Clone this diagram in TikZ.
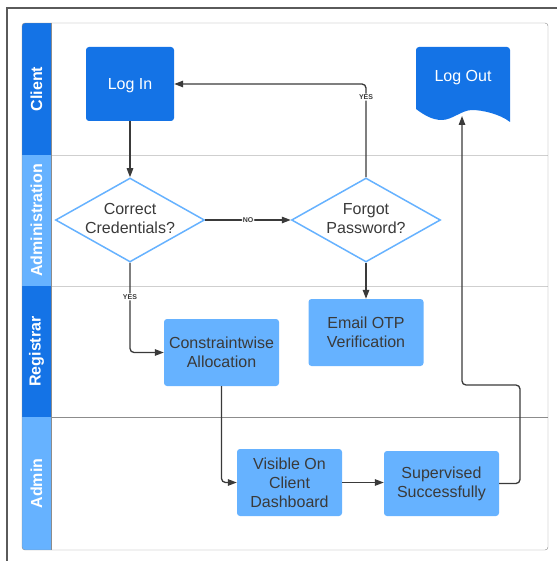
\documentclass[tikz,border=0pt]{standalone}
\usepackage{fontspec}
\setmainfont{Liberation Sans}
\usepackage{tikz}
\usetikzlibrary{arrows.meta,shapes.geometric}
\definecolor{deepblue}{HTML}{1473E6}
\definecolor{skyblue}{HTML}{66B2FF}
\definecolor{inkgray}{HTML}{3A3A3A}
\definecolor{framegray}{HTML}{5A5A5A}
\definecolor{midgray}{HTML}{8C8C8C}
\definecolor{rulegray}{HTML}{CFCFCF}
% two-line text that does not widen a diamond
\newcommand{\dtext}[1]{\makebox[0pt]{\begin{tabular}{@{}c@{}}#1\end{tabular}}}

\begin{document}
\begin{tikzpicture}[x=1pt, y=-1pt, every node/.style={font=\fontsize{16}{19}\selectfont},
  procbox/.style={rectangle, rounded corners=3pt, inner sep=2pt, align=center, minimum height=67pt},
  darkbox/.style={procbox, fill=deepblue, text=white},
  lightbox/.style={procbox, fill=skyblue, text=inkgray},
  decision/.style={diamond, draw=skyblue, line width=1.5pt, fill=white, minimum width=149pt, minimum height=84pt, inner sep=0pt, text=inkgray},
  flow/.style={draw=inkgray, line width=1.3pt, rounded corners=4pt, -{Triangle[length=9pt,width=6.5pt]}},
  tag/.style={font=\fontsize{7}{8}\selectfont\bfseries, text=inkgray, fill=white, inner sep=1pt},
  lanelab/.style={font=\fontsize{16}{19}\selectfont\bfseries, text=white, rotate=90}]
\useasboundingbox (0,0) rectangle (557,561);
\draw[framegray, line width=1.2pt] (7,561) -- (7,8) -- (557,8);

% swimlanes
\begin{scope}
\clip[rounded corners=3pt] (22,23) rectangle (548,550);
\foreach \ya/\yb/\lab/\col in {23/155/Client/deepblue, 155/286/Administration/skyblue,
  286/417/Registrar/deepblue, 417/550/Admin/skyblue}{
  \fill[\col] (22,\ya) rectangle (51,\yb);
  \node[lanelab] (lane-\lab) at (36.5,{(\ya+\yb)/2}) {\lab};}
\end{scope}
\draw[rulegray] (51,155) -- (548,155); \draw[rulegray] (51,286) -- (548,286);
\draw[midgray] (51,417) -- (548,417);
\draw[midgray] (51,23) -- (51,550);
\draw[midgray, rounded corners=3pt] (22,23) rectangle (548,550);

% steps
\node[darkbox, minimum width=88pt, minimum height=74pt, text depth=0pt] (login) at (130,84) {Log In};
\node[decision] (correct) at (130,220) {\dtext{Correct\\Credentials?}};
\node[decision] (forgot) at (366,220) {\dtext{Forgot\\Password?}};
\node[lightbox, minimum width=115pt] (email) at (366,332.5) {Email OTP\\Verification};
\node[lightbox, minimum width=115pt] (alloc) at (221.5,352.5) {Constraintwise\\Allocation};
\node[lightbox, minimum width=105pt] (visible) at (289.5,482.5) {Visible On\\Client\\Dashboard};
\node[lightbox, minimum width=115pt, minimum height=65pt] (superv) at (441.5,483.5) {Supervised\\Successfully};

% document shape for the last step
\fill[deepblue] (416,109) [rounded corners=3pt] -- (416,47) -- (510,47) -- (510,118) [sharp corners] -- (510,122)
  .. controls (500,114) and (482,110) .. (472,110) .. controls (462,110) and (452,120) .. (442,120)
  .. controls (432,120) and (424,115) .. (416,109) -- cycle;
\node[text=white, inner sep=0pt] (logout) at (463,78) {Log Out};

% connectors
\coordinate (turn) at (520,385);
\coordinate (logout-in) at (462,116);
\draw[flow] (login.south) -- (correct.north);
\draw[flow] (correct.east) -- node[tag] (no) {NO} (forgot.west);
\draw[flow] (forgot.north) |- node[tag, pos=0.43] (yes-up) {YES} (login.east);
\draw[flow] (forgot.south) -- (email.north);
\draw[flow] (correct.south) |- node[tag, pos=0.19] (yes-down) {YES} (alloc.west);
\draw[flow] (alloc.south) |- (visible.west);
\draw[flow] (visible.east) -- (visible.east -| superv.west);
\draw[flow] (superv.east) -| (turn) -| (logout-in);
\end{tikzpicture}
\end{document}
